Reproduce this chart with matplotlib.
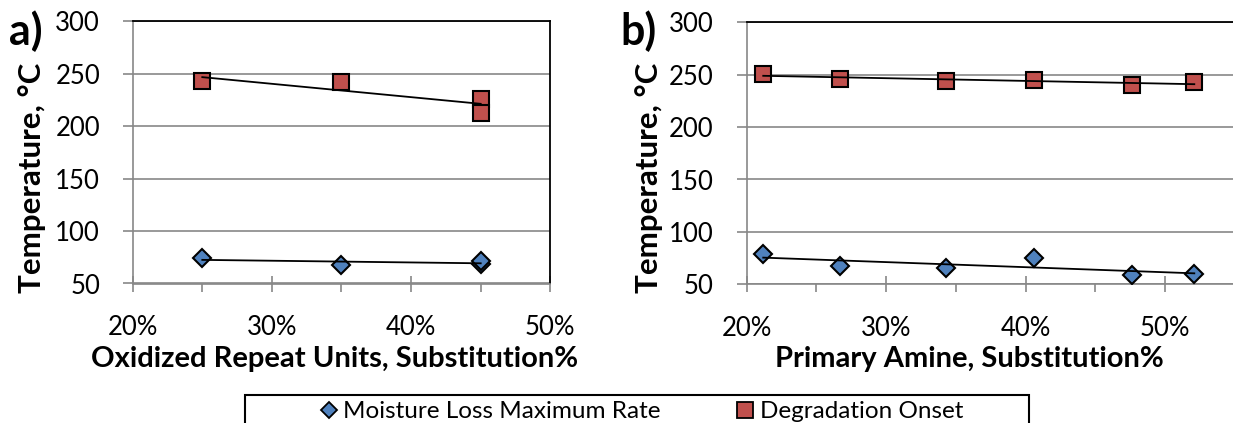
import numpy as np
import matplotlib
matplotlib.use("Agg")
import matplotlib.pyplot as plt
from matplotlib.lines import Line2D
from matplotlib.patches import Rectangle
from matplotlib.ticker import FixedLocator, PercentFormatter

# Panel a: oxidized repeat units
oxidized_pct = [0.25, 0.35, 0.45, 0.45]
oxidized_moisture = [74, 68, 69, 71]
oxidized_onset = [243, 242, 226, 213]

# Panel b: primary amine
amine_pct = [0.212, 0.267, 0.343, 0.406, 0.476, 0.521]
amine_moisture = [79, 67, 66, 75.5, 59, 60]
amine_onset = [251, 246, 244, 245, 240, 243]

y_ticks = [50, 100, 150, 200, 250, 300]
x_major = [0.2, 0.3, 0.4, 0.5]
x_minor = [0.25, 0.35, 0.45, 0.55]

series_names = ["Moisture Loss Maximum Rate", "Degradation Onset"]
panel_tags = ["a)", "b)"]
x_titles = ["Oxidized Repeat Units, Substitution%", "Primary Amine, Substitution%"]
y_title = "Temperature, °C"

BLUE = "#4F81BD"
RED = "#C0504D"
GRID = "#878787"

plt.rcParams['font.family'] = ['Lato', 'DejaVu Sans']

W, H = 1233, 423
fig = plt.figure(figsize=(W / 100, H / 100), dpi=100)


def px_axes(left, top, right, bottom):
    return fig.add_axes([left / W, 1 - bottom / H, (right - left) / W, (bottom - top) / H])


def fx(px):
    return px / W


def fy(py):
    return 1 - py / H


def style(ax, xmax):
    ax.set_xlim(0.2, xmax)
    ax.set_ylim(50, 300)
    ax.xaxis.set_major_locator(FixedLocator(x_major))
    ax.xaxis.set_minor_locator(FixedLocator(x_minor))
    ax.xaxis.set_major_formatter(PercentFormatter(1.0, decimals=0))
    ax.set_yticks(y_ticks)
    ax.yaxis.grid(True, color=GRID, lw=1.2)
    ax.set_axisbelow(True)
    for s in ("left", "bottom"):
        ax.spines[s].set_color(GRID)
        ax.spines[s].set_linewidth(1.2)
    for s in ("top", "right"):
        ax.spines[s].set_color("black")
        ax.spines[s].set_linewidth(1.3)
    ax.tick_params(axis="x", which="major", direction="inout", length=12, width=1.2,
                   color=GRID, pad=16.5, labelsize=18.5)
    ax.tick_params(axis="x", which="minor", direction="out", length=6, width=1.2, color=GRID)
    ax.tick_params(axis="y", which="major", direction="out", length=7, width=1.2,
                   color=GRID, pad=16.5, labelsize=18.5)


def draw(ax, x, moist, onset):
    ax.plot(x, moist, ls="none", marker="D", ms=9, mfc=BLUE, mec="black", mew=1.5, zorder=3)
    ax.plot(x, onset, ls="none", marker="s", ms=12, mfc=RED, mec="black", mew=1.5, zorder=3)
    xs = np.array([min(x), max(x)])
    for y in (moist, onset):
        k, b = np.polyfit(x, y, 1)
        ax.plot(xs, k * xs + b, color="black", lw=1.3, zorder=4)


ax_a = px_axes(132.7, 21.5, 550.3, 283.5)
style(ax_a, 0.5)
draw(ax_a, oxidized_pct, oxidized_moisture, oxidized_onset)

# the right-hand plot area runs on past the edge of the figure
ax_b = px_axes(746.5, 22.3, 1304.5, 284.3)
style(ax_b, 0.6)
draw(ax_b, amine_pct, amine_moisture, amine_onset)

# Panel tags, axis titles
for tx, tag in zip((9, 620), panel_tags):
    fig.text(fx(tx), fy(45), tag, fontsize=31, fontweight="bold", ha="left", va="baseline")
for cx, title in zip((32, 649), (y_title, y_title)):
    fig.text(fx(cx), fy(178), title, fontsize=22.5, fontweight="bold", rotation=90,
             ha="center", va="center")
for cx, title in zip((335, 969.5), x_titles):
    fig.text(fx(cx), fy(367), title, fontsize=21, fontweight="bold", ha="center", va="baseline")

# Shared legend along the bottom
fig.add_artist(Rectangle((fx(245), -0.1), fx(1029) - fx(245), fy(395) + 0.1,
                         transform=fig.transFigure, fill=False, ec="black", lw=1.5))
fig.add_artist(Line2D([fx(329)], [fy(410)], transform=fig.transFigure, ls="none", marker="D",
                      ms=8.5, mfc=BLUE, mec="black", mew=1.3))
fig.text(fx(343), fy(418), series_names[0], fontsize=17.5, ha="left", va="baseline")
fig.add_artist(Line2D([fx(745)], [fy(410)], transform=fig.transFigure, ls="none", marker="s",
                      ms=11, mfc=RED, mec="black", mew=1.3))
fig.text(fx(760), fy(418), series_names[1], fontsize=17.5, ha="left", va="baseline")

fig.savefig("out.png", dpi=100)
